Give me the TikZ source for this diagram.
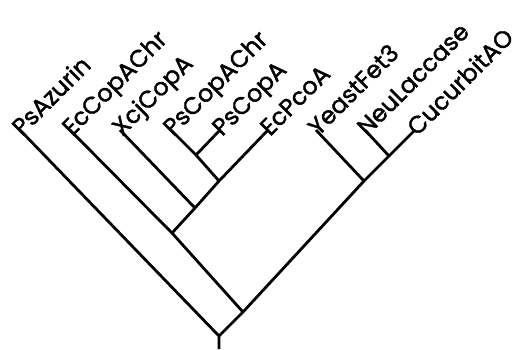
\documentclass[tikz,border=0pt]{standalone}
\usepackage{fontspec}
\newfontfamily\labfont{Poppins}[FakeBold=1.6]
\begin{document}
\begin{tikzpicture}[x=1pt,y=-1pt,
  branch/.style={line width=2.8pt,line cap=butt,line join=miter},
  lab/.style={rotate=45,anchor=base west,inner sep=0pt,font=\labfont\fontsize{24}{24}\selectfont}]
\useasboundingbox (0,0) rectangle (514,349);
% tips
\coordinate (t1) at (20,130);
\coordinate (t2) at (70,130);
\coordinate (t3) at (120,130);
\coordinate (t4) at (171,130);
\coordinate (t5) at (220,130);
\coordinate (t6) at (268,130);
\coordinate (t7) at (316,130);
\coordinate (t8) at (365,130);
\coordinate (t9) at (415,130);
% internal nodes
\coordinate (n45) at (196,155);
\coordinate (n456) at (219,181);
\coordinate (n3) at (195,208);
\coordinate (n2) at (172,233);
\coordinate (n89) at (389,156);
\coordinate (n789) at (364,181);
\coordinate (nmid) at (243,312);
\coordinate (root) at (219,336);
\coordinate (base) at (219,349);
% labels
\node[lab] (l1) at ([xshift=2,yshift=-7]t1) {PsAzurin};
\node[lab] (l2) at ([xshift=2,yshift=-7]t2) {EcCopAChr};
\node[lab] (l3) at ([xshift=2,yshift=-7]t3) {XcjCopA};
\node[lab] (l4) at ([xshift=2,yshift=-7]t4) {PsCopAChr};
\node[lab] (l5) at ([xshift=2,yshift=-7]t5) {PsCopA};
\node[lab] (l6) at ([xshift=2,yshift=-7]t6) {EcPcoA};
\node[lab] (l7) at ([xshift=2,yshift=-7]t7) {YeastFet3};
\node[lab] (l8) at ([xshift=2,yshift=-7]t8) {NeuLaccase};
\node[lab] (l9) at ([xshift=2,yshift=-7]t9) {CucurbitAO};
% branches
\draw[branch] (t1) -- (root) -- (base);
\draw[branch] (t9) -- (n89) -- (n789) -- (nmid) -- (root);
\draw[branch] (t8) -- (n89);
\draw[branch] (t7) -- (n789);
\draw[branch] (t2) -- (n2) -- (nmid);
\draw[branch] (t6) -- (n456) -- (n3) -- (n2);
\draw[branch] (t3) -- (n3);
\draw[branch] (t4) -- (n45) -- (n456);
\draw[branch] (t5) -- (n45);
\end{tikzpicture}
\end{document}
